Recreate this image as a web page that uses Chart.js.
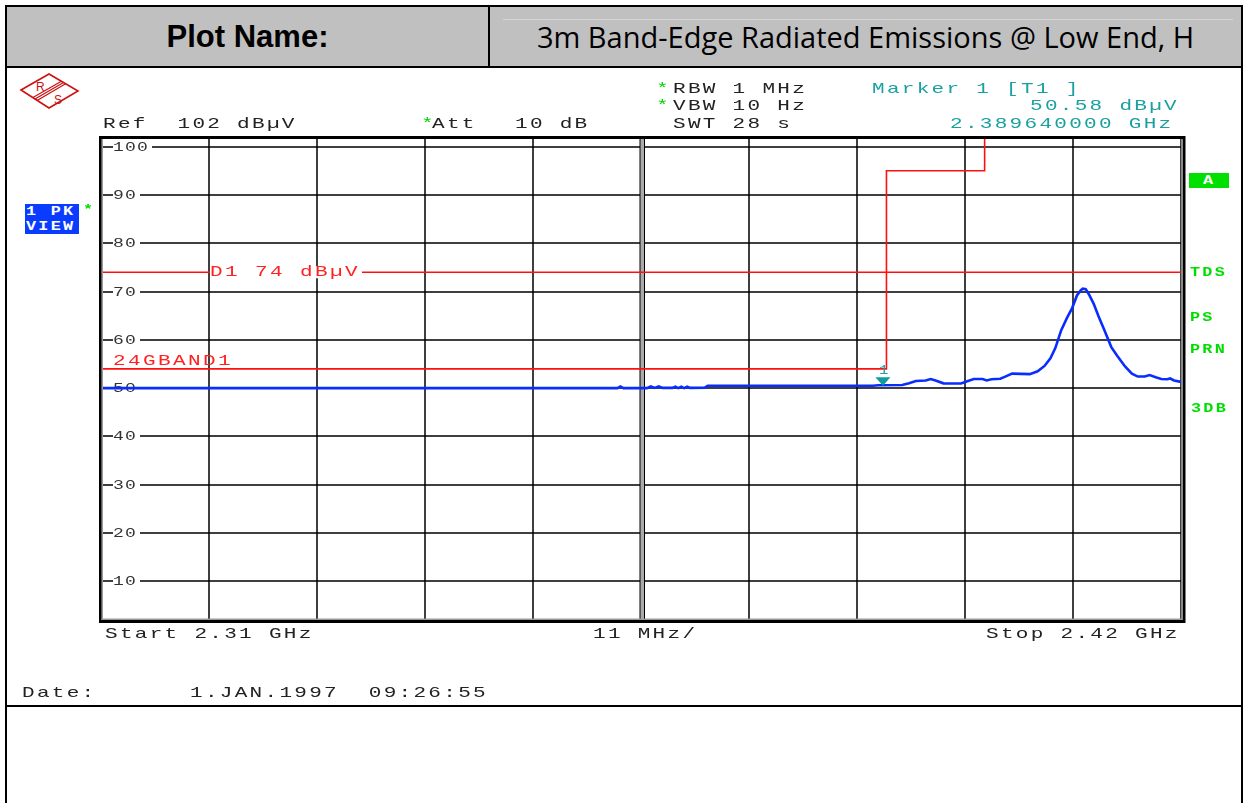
<!DOCTYPE html>
<html>
<head>
<meta charset="utf-8">
<script src="https://cdn.jsdelivr.net/npm/chart.js@4.4.1/dist/chart.umd.min.js"></script>
<style>
  body { margin: 0; width: 1245px; height: 803px; overflow: hidden; background: #fff; position: relative; }
  .abs { position: absolute; }
  .mono {
    position: absolute; font-family: "Liberation Mono", monospace; font-size: 15px; line-height: 14px;
    letter-spacing: 1.64px; transform: scaleX(1.4); transform-origin: left center; white-space: pre; color: #222;
  }
  .star { color: #00d000; }
  .teal { color: #1aa0a0; }
  .grn {
    position: absolute; font-family: "Liberation Mono", monospace; font-size: 12px; line-height: 12px; font-weight: bold;
    letter-spacing: 1.6px; transform: scaleX(1.4); transform-origin: left center; white-space: pre; color: #00dd00;
  }
  .head { position: absolute; top: 10px; height: 54px; line-height: 54px; text-align: center; color: #000; }
  #chart { position: absolute; left: 0; top: 0; }
</style>
</head>
<body>
<!-- outer table -->
<div class="abs" style="left:5px;top:5px;width:1238px;height:830px;border:2px solid #000;box-sizing:border-box;"></div>
<div class="abs" style="left:7px;top:7px;width:1234px;height:59px;background:#c0c0c0;"></div>
<div class="abs" style="left:503px;top:19px;width:730px;height:1px;background:#d6d6d6;"></div>
<div class="abs" style="left:5px;top:66px;width:1238px;height:2px;background:#000;"></div>
<div class="abs" style="left:488px;top:7px;width:2px;height:60px;background:#000;"></div>
<div class="abs" style="left:5px;top:705px;width:1238px;height:2px;background:#000;"></div>
<div class="head" style="left:7px;width:481px;font-family:'Liberation Sans';font-weight:bold;font-size:31px;">Plot Name:</div>
<div class="head" style="left:490px;width:751px;font-family:'Open Sans';font-size:29px;">3m Band-Edge Radiated Emissions @ Low End, H</div>

<!-- R&S logo -->
<svg class="abs" style="left:0;top:0" width="100" height="120">
  <polygon points="21,90 49,74 78,91 49,108" fill="none" stroke="#cc1111" stroke-width="1.6"/>
  <line x1="32.9" y1="97.6" x2="61.4" y2="81.3" stroke="#cc1111" stroke-width="1.2"/>
  <line x1="35" y1="99" x2="63.5" y2="82.5" stroke="#cc1111" stroke-width="1.2"/>
  <line x1="37.1" y1="100.4" x2="65.6" y2="83.7" stroke="#cc1111" stroke-width="1.2"/>
  <text x="36" y="91" font-family="Liberation Sans" font-size="12" fill="#cc1111">R</text>
  <text x="54" y="104" font-family="Liberation Sans" font-size="12" fill="#cc1111">S</text>
</svg>

<canvas id="chart" width="1245" height="803"></canvas>

<!-- instrument annotations -->
<div class="mono" style="left:103px;top:118px;">Ref  102 dBµV</div>
<div class="mono star" style="left:421px;top:118px;">*</div>
<div class="mono" style="left:432px;top:118px;">Att</div>
<div class="mono" style="left:515px;top:118px;">10 dB</div>
<div class="mono star" style="left:656px;top:83px;">*</div>
<div class="mono" style="left:673px;top:83px;">RBW 1 MHz</div>
<div class="mono star" style="left:656px;top:100px;">*</div>
<div class="mono" style="left:673px;top:100px;">VBW 10 Hz</div>
<div class="mono" style="left:673px;top:118px;">SWT 28 s</div>
<div class="mono teal" style="left:872px;top:83px;">Marker 1 [T1 ]</div>
<div class="mono teal" style="left:1030px;top:100px;">50.58 dBµV</div>
<div class="mono teal" style="left:950px;top:118px;">2.389640000 GHz</div>
<div class="mono" style="left:105px;top:628px;">Start 2.31 GHz</div>
<div class="mono" style="left:593px;top:628px;">11 MHz/</div>
<div class="mono" style="left:986px;top:628px;">Stop 2.42 GHz</div>
<div class="mono" style="left:22px;top:687px;">Date:</div>
<div class="mono" style="left:190px;top:687px;">1.JAN.1997  09:26:55</div>

<div class="abs" style="left:25px;top:204px;width:54px;height:30px;background:#0a3cff;"></div>
<div class="grn" style="left:26px;top:206px;color:#fff;">1 PK</div>
<div class="grn" style="left:26px;top:221px;color:#fff;">VIEW</div>
<div class="grn" style="left:83px;top:204px;">*</div>
<div class="abs" style="left:1189px;top:173px;width:40px;height:15px;background:#00e000;"></div>
<div class="grn" style="left:1203px;top:175px;color:#fff;">A</div>
<div class="grn" style="left:1190px;top:267px;">TDS</div>
<div class="grn" style="left:1190px;top:312px;">PS</div>
<div class="grn" style="left:1190px;top:344px;">PRN</div>
<div class="grn" style="left:1191px;top:403px;">3DB</div>

<script>
// sweep 2.31 - 2.42 GHz, values in MHz / dBuV
const traceFreq = [2310, 2340, 2362.6, 2362.9, 2363.2, 2365.6, 2366.0, 2366.4, 2366.8, 2367.2, 2368.2, 2368.5,
  2368.8, 2369.1, 2369.4, 2369.7, 2370.0, 2371.5, 2371.8, 2380, 2388.6, 2389.2, 2391.6, 2392.3, 2393.0, 2394.0,
  2394.5, 2395.0, 2395.8, 2397.6, 2398.3, 2398.9, 2399.8, 2400.2, 2400.7, 2401.6, 2402.1, 2402.8, 2404.6, 2405.4,
  2406.1, 2406.7, 2407.2, 2407.8, 2408.4, 2408.9, 2409.4, 2409.8, 2410.0, 2410.3, 2410.6, 2411.1, 2411.6, 2412.2,
  2412.9, 2413.5, 2414.3, 2415.0, 2415.6, 2416.3, 2416.8, 2417.5, 2418.0, 2418.6, 2418.9, 2419.3, 2420];
const traceLevel = [50.0, 50.0, 50.0, 50.35, 50.0, 50.0, 50.35, 50.05, 50.35, 50.05, 50.05, 50.3,
  50.0, 50.3, 50.0, 50.3, 50.05, 50.1, 50.5, 50.5, 50.5, 50.6, 50.65, 51.0, 51.5, 51.6,
  51.9, 51.6, 51.0, 50.95, 51.5, 51.9, 51.9, 51.6, 51.85, 51.95, 52.4, 53.0, 52.9, 53.5,
  54.6, 56.2, 58.3, 62.0, 64.6, 66.5, 69.2, 70.3, 70.6, 70.5, 69.5, 67.5, 64.9, 62.0,
  58.5, 56.7, 54.5, 53.0, 52.4, 52.4, 52.7, 52.2, 51.9, 51.85, 52.0, 51.6, 51.3];

// limit line 24GBAND1
const limitFreq = [2310, 2390, 2390, 2400, 2400];
const limitLevel = [54, 54, 95, 95, 102];
const limitName = "24GBAND1";

// display line D1
const d1Level = 74;
const d1Label = "D1 74 dBµV";

const markerFreq = 2389.64;
const markerLevel = 50.58;

const xMin = 2310, xMax = 2420;
const yMin = 2, yMax = 102;
const xTicks = [2310, 2321, 2332, 2343, 2354, 2365, 2376, 2387, 2398, 2409, 2420];
const yTicks = [10, 20, 30, 40, 50, 60, 70, 80, 90, 100];
const yTickLabels = ["10", "20", "30", "40", "50", "60", "70", "80", "90", "100"];

function pts(xs, ys) {
    return xs.map((x, i) => ({ x: x, y: ys[i] }));
}

// draws text char by char on a fixed pitch (wide instrument font)
function drawSpaced(ctx, text, x, cy, pitch, size, sx, color) {
    ctx.save();
    ctx.font = size + 'px "Liberation Mono"';
    ctx.fillStyle = color;
    ctx.textBaseline = "middle";
    ctx.textAlign = "left";
    for (let i = 0; i < text.length; i++) {
        ctx.save();
        ctx.translate(x + i * pitch, cy);
        ctx.scale(sx, 1);
        ctx.fillText(text[i], 0, 0);
        ctx.restore();
    }
    ctx.restore();
}

const screenPlugin = {
    id: "screen",
    beforeDatasetsDraw(chart) {
        const ctx = chart.ctx, ca = chart.chartArea;
        const xs = chart.scales.x, ys = chart.scales.y;
        ctx.save();
        ctx.fillStyle = "#000";
        xTicks.forEach(t => {
            const px = Math.round(xs.getPixelForValue(t));
            ctx.fillRect(px - 0.75, ca.top, 1.5, ca.bottom - ca.top);
        });
        yTicks.forEach(t => {
            const py = Math.round(ys.getPixelForValue(t));
            ctx.fillRect(ca.left, py - 0.75, ca.right - ca.left, 1.5);
        });
        // centre line drawn double
        const cx = Math.round(xs.getPixelForValue(xTicks[5]));
        ctx.fillStyle = "#aaa";
        ctx.fillRect(cx - 1, ca.top, 4, ca.bottom - ca.top);
        ctx.fillStyle = "#000";
        ctx.fillRect(cx - 1.5, ca.top, 1, ca.bottom - ca.top);
        ctx.fillRect(cx + 3, ca.top, 1, ca.bottom - ca.top);
        // y labels sit on the grid lines
        yTicks.forEach((t, i) => {
            const py = Math.round(ys.getPixelForValue(t));
            const lbl = yTickLabels[i];
            ctx.fillStyle = "#fff";
            ctx.fillRect(ca.left + 12, py - 5, lbl.length * 12 + 3, 10);
            drawSpaced(ctx, lbl, ca.left + 12, py + 0.5, 12, 12, 1.5, "#333");
        });
        ctx.restore();
    },
    afterDatasetsDraw(chart) {
        const ctx = chart.ctx, ca = chart.chartArea;
        const xs = chart.scales.x, ys = chart.scales.y;
        ctx.save();
        // D1 label on its line
        const d1y = ys.getPixelForValue(d1Level);
        const d1x = xs.getPixelForValue(xTicks[1]) + 1;
        ctx.fillStyle = "#fff";
        ctx.fillRect(d1x, d1y - 6, d1Label.length * 15 + 2, 12);
        drawSpaced(ctx, d1Label, d1x, d1y, 15, 15, 1.4, "#ff2020");
        // limit line name
        const ly = ys.getPixelForValue(limitLevel[0]);
        drawSpaced(ctx, limitName, ca.left + 12, ly - 8, 15, 15, 1.4, "#ff2020");
        // marker 1
        const mx = xs.getPixelForValue(markerFreq);
        const my = ys.getPixelForValue(markerLevel);
        ctx.fillStyle = "#109c9c";
        ctx.beginPath();
        ctx.moveTo(mx, my + 0.5);
        ctx.lineTo(mx - 7.5, my - 8);
        ctx.lineTo(mx + 7.5, my - 8);
        ctx.closePath();
        ctx.fill();
        drawSpaced(ctx, "1", mx - 4, my - 15, 10, 12, 1.3, "#1aa0a0");
        // frame
        ctx.fillStyle = "#000";
        ctx.fillRect(ca.left - 2, ca.top - 1, ca.right - ca.left + 6, 3);
        ctx.fillRect(ca.left - 2, ca.bottom, ca.right - ca.left + 6, 3);
        ctx.fillRect(ca.left - 2, ca.top - 1, 2.5, ca.bottom - ca.top + 4);
        ctx.fillRect(ca.right + 1.5, ca.top - 1, 3, ca.bottom - ca.top + 4);
        ctx.fillStyle = "#999";
        ctx.fillRect(ca.left + 0.5, ca.top + 2, 1.5, ca.bottom - ca.top - 2);
        ctx.fillRect(ca.right + 0.2, ca.top + 2, 1.3, ca.bottom - ca.top - 2);
        ctx.fillRect(ca.left + 0.5, ca.bottom - 1.5, ca.right - ca.left + 1, 1.5);
        ctx.restore();
    }
};

new Chart(document.getElementById("chart").getContext("2d"), {
    type: "line",
    data: {
        datasets: [
            {
                label: "Trace 1",
                data: pts(traceFreq, traceLevel),
                borderColor: "#0a2dff",
                borderWidth: 2.6,
                pointRadius: 0,
                order: 0
            },
            {
                label: limitName,
                data: pts(limitFreq, limitLevel),
                borderColor: "#ff1010",
                borderWidth: 1.6,
                pointRadius: 0,
                order: 1
            },
            {
                label: "D1",
                data: pts([xMin, xMax], [d1Level, d1Level]),
                borderColor: "#ff1010",
                borderWidth: 1.6,
                pointRadius: 0,
                order: 2
            }
        ]
    },
    options: {
        responsive: false,
        animation: false,
        layout: { padding: { left: 101, right: 64, top: 137, bottom: 183 } },
        plugins: { legend: { display: false }, tooltip: { enabled: false } },
        scales: {
            x: { type: "linear", min: xMin, max: xMax, display: false },
            y: { type: "linear", min: yMin, max: yMax, display: false }
        }
    },
    plugins: [screenPlugin]
});
</script>
</body>
</html>
